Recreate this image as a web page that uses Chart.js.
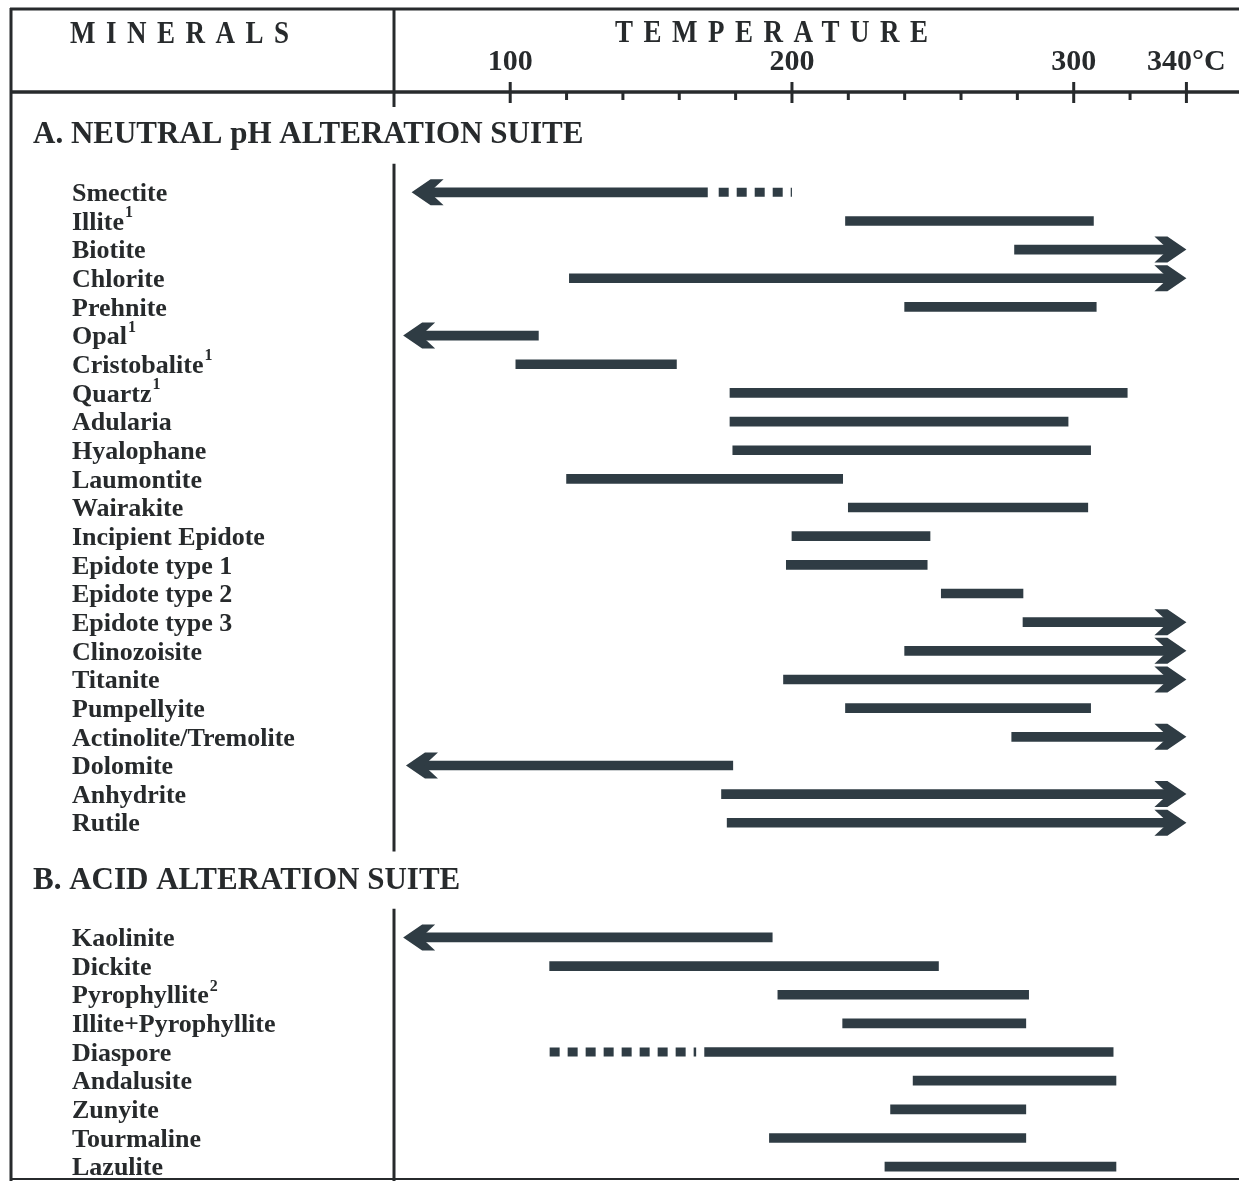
<!DOCTYPE html>
<html>
<head>
<meta charset="utf-8">
<script src="https://cdn.jsdelivr.net/npm/chart.js@4"></script>
<style>
  html, body { margin: 0; padding: 0; background: #fff; }
  #wrap { position: relative; width: 1239px; height: 1181px; }
</style>
</head>
<body>
<div id="wrap"><canvas id="chart"></canvas></div>
<script>
// A. neutral pH alteration suite (temperatures in degrees C)
const suiteA = ['Smectite', 'Illite', 'Biotite', 'Chlorite', 'Prehnite', 'Opal', 'Cristobalite',
  'Quartz', 'Adularia', 'Hyalophane', 'Laumontite', 'Wairakite', 'Incipient Epidote',
  'Epidote type 1', 'Epidote type 2', 'Epidote type 3', 'Clinozoisite', 'Titanite',
  'Pumpellyite', 'Actinolite/Tremolite', 'Dolomite', 'Anhydrite', 'Rutile'];
const notesA = ['', '1', '', '', '', '1', '1', '1', '', '', '', '', '', '', '', '', '', '', '', '', '', '', ''];
const lowA  = [65, 219, 279, 121, 240, 62, 102, 178, 178, 179, 120, 220, 200, 198, 253, 282, 240, 197, 219, 278, 63, 175, 177];
const highA = [170, 307, 340, 340, 308, 110, 159, 319, 298, 306, 218, 305, 249, 248, 282, 340, 340, 340, 306, 340, 179, 340, 340];
const arrowA = ['L', '', 'R', 'R', '', 'L', '', '', '', '', '', '', '', '', '', 'R', 'R', 'R', '', 'R', 'L', 'R', 'R'];

// B. acid alteration suite
const suiteB = ['Kaolinite', 'Dickite', 'Pyrophyllite', 'Illite+Pyrophyllite', 'Diaspore',
  'Andalusite', 'Zunyite', 'Tourmaline', 'Lazulite'];
const notesB = ['', '', '2', '', '', '', '', '', ''];
const lowB  = [62, 114, 195, 218, 169, 243, 235, 192, 233];
const highB = [193, 252, 284, 283, 314, 315, 283, 283, 315];
const arrowB = ['L', '', '', '', '', '', '', '', ''];

// uncertain (dashed) parts of ranges
const dashNames = ['Smectite', 'Diaspore'];
const dashLow  = [174, 114];
const dashHigh = [200, 166];

// temperature axis
const tickValues = [100, 120, 140, 160, 180, 200, 220, 240, 260, 280, 300, 320, 340];
const tickNames  = ['100', '', '', '', '', '200', '', '', '', '', '300', '', '340°C'];

const headA = 'A. NEUTRAL pH ALTERATION SUITE';
const headB = 'B. ACID ALTERATION SUITE';

const INK = '#272a2c';
const BAR = '#2f3c44';
const SERIF = '"Liberation Serif", "Times New Roman", serif';

// rows: spacer, suite header, spacer, minerals ... (same for B)
const cats = ['_s0', '_hA', '_s1'].concat(suiteA, ['_s2', '_hB', '_s3'], suiteB);
const names = suiteA.concat(suiteB);
const notes = notesA.concat(notesB);
const lows = lowA.concat(lowB);
const highs = highA.concat(highB);
const arrows = arrowA.concat(arrowB);

const barData = cats.map(c => {
  const i = names.indexOf(c);
  return i < 0 ? null : [lows[i], highs[i]];
});
const arrowOf = cats.map(c => {
  const i = names.indexOf(c);
  return i < 0 ? '' : arrows[i];
});

const dashSets = dashNames.map((n, i) => ({
  type: 'line',
  data: [{x: dashLow[i], y: n}, {x: dashHigh[i], y: n}],
  borderColor: BAR,
  borderWidth: 9,
  borderDash: [10, 8],
  borderCapStyle: 'butt',
  pointRadius: 0,
  fill: false
}));

// chevron style head, dir 1 = pointing right
function arrowHead(ctx, x, y, dir) {
  ctx.beginPath();
  ctx.moveTo(x, y);
  ctx.lineTo(x - dir * 19, y - 13);
  ctx.lineTo(x - dir * 32, y - 13);
  ctx.lineTo(x - dir * 18, y);
  ctx.lineTo(x - dir * 32, y + 13);
  ctx.lineTo(x - dir * 19, y + 13);
  ctx.closePath();
  ctx.fill();
}

// text squeezed taller, like the scanned print
function tallText(ctx, txt, x, y, k) {
  ctx.save();
  ctx.translate(x, y);
  ctx.scale(1, k);
  ctx.fillText(txt, 0, 0);
  ctx.restore();
}

const framePlugin = {
  id: 'frame',
  beforeDraw(chart) {
    const ctx = chart.ctx;
    ctx.save();
    ctx.fillStyle = '#fff';
    ctx.fillRect(0, 0, chart.width, chart.height);
    ctx.restore();
  },
  afterDatasetsUpdate(chart) {
    // shorten shafts so the heads sit on the ends
    const xs = chart.scales.x;
    const meta = chart.getDatasetMeta(0);
    meta.data.forEach((el, i) => {
      if (!barData[i]) return;
      if (arrowOf[i] === 'R') el.x = xs.getPixelForValue(barData[i][1]) - 14;
      if (arrowOf[i] === 'L') el.base = xs.getPixelForValue(barData[i][0]) + 14;
    });
  },
  afterDatasetsDraw(chart) {
    const ctx = chart.ctx;
    const xs = chart.scales.x, ys = chart.scales.y;
    ctx.save();
    ctx.fillStyle = BAR;
    cats.forEach((c, i) => {
      if (!arrowOf[i]) return;
      const y = ys.getPixelForValue(i);
      if (arrowOf[i] === 'R') arrowHead(ctx, xs.getPixelForValue(barData[i][1]), y, 1);
      else arrowHead(ctx, xs.getPixelForValue(barData[i][0]), y, -1);
    });
    ctx.restore();
  },
  afterDraw(chart) {
    const ctx = chart.ctx;
    const xs = chart.scales.x, ys = chart.scales.y;
    const area = chart.chartArea;
    const W = chart.width, H = chart.height;
    const divX = area.left + 1;
    ctx.save();
    ctx.strokeStyle = INK;
    ctx.lineCap = 'butt';

    function line(x1, y1, x2, y2, w) {
      ctx.lineWidth = w;
      ctx.beginPath();
      ctx.moveTo(x1, y1);
      ctx.lineTo(x2, y2);
      ctx.stroke();
    }
    // box
    line(10, 9, W, 9, 3);
    line(11, 8, 11, H, 3);
    line(10, area.top, W, area.top, 3.5);
    line(10, H - 2, W, H - 2, 2);
    // column divider, broken at the suite headers
    line(divX, 8, divX, area.top + 15, 3);
    line(divX, ys.getPixelForValue(2), divX, ys.getPixelForValue(cats.indexOf('_s2')), 3);
    line(divX, ys.getPixelForValue(cats.indexOf('_s3')), divX, H, 3);

    // temperature ticks
    tickValues.forEach((v, i) => {
      const x = xs.getPixelForValue(v);
      if (tickNames[i]) line(x, area.top - 10, x, area.top + 11, 3);
      else line(x, area.top, x, area.top + 8, 3);
    });

    ctx.fillStyle = INK;
    ctx.textAlign = 'left';
    ctx.textBaseline = 'middle';
    // column titles
    ctx.font = 'bold 27px ' + SERIF;
    ctx.letterSpacing = '10.5px';
    tallText(ctx, 'MINERALS', 70, 35, 1.18);
    tallText(ctx, 'TEMPERATURE', 615, 34, 1.18);
    ctx.letterSpacing = '0px';

    // suite headers
    ctx.font = 'bold 31px ' + SERIF;
    tallText(ctx, headA, 33, ys.getPixelForValue(1), 1.05);
    tallText(ctx, headB, 33, ys.getPixelForValue(cats.indexOf('_hB')), 1.05);

    // mineral names
    cats.forEach((c, i) => {
      const k = names.indexOf(c);
      if (k < 0) return;
      const y = ys.getPixelForValue(i) + 2;
      ctx.font = 'bold 26px ' + SERIF;
      ctx.fillText(c, 72, y);
      if (notes[k]) {
        const w = ctx.measureText(c).width;
        ctx.font = 'bold 16px ' + SERIF;
        ctx.fillText(notes[k], 72 + w + 1, y - 10);
      }
    });
    ctx.restore();
  }
};

new Chart(document.getElementById('chart'), {
  type: 'bar',
  data: {
    labels: cats,
    datasets: [{
      data: barData,
      backgroundColor: BAR,
      borderWidth: 0,
      barThickness: 9
    }].concat(dashSets)
  },
  options: {
    indexAxis: 'y',
    responsive: true,
    maintainAspectRatio: false,
    animation: false,
    layout: { padding: { left: 393, right: 3, top: 0, bottom: 0 } },
    plugins: { legend: { display: false }, tooltip: { enabled: false } },
    scales: {
      x: {
        type: 'linear',
        position: 'top',
        min: 58.4,
        max: 357.6,
        afterBuildTicks: s => { s.ticks = tickValues.map(v => ({ value: v })); },
        afterFit: s => { s.height = 92; },
        grid: { display: false, drawTicks: false },
        border: { display: false },
        ticks: {
          autoSkip: false,
          maxRotation: 0,
          padding: 12,
          color: INK,
          font: { family: SERIF, size: 30, weight: 'bold' },
          callback: (v, i) => tickNames[i]
        }
      },
      y: {
        type: 'category',
        display: false,
        offset: true,
        grid: { display: false }
      }
    }
  },
  plugins: [framePlugin]
});
</script>
</body>
</html>
